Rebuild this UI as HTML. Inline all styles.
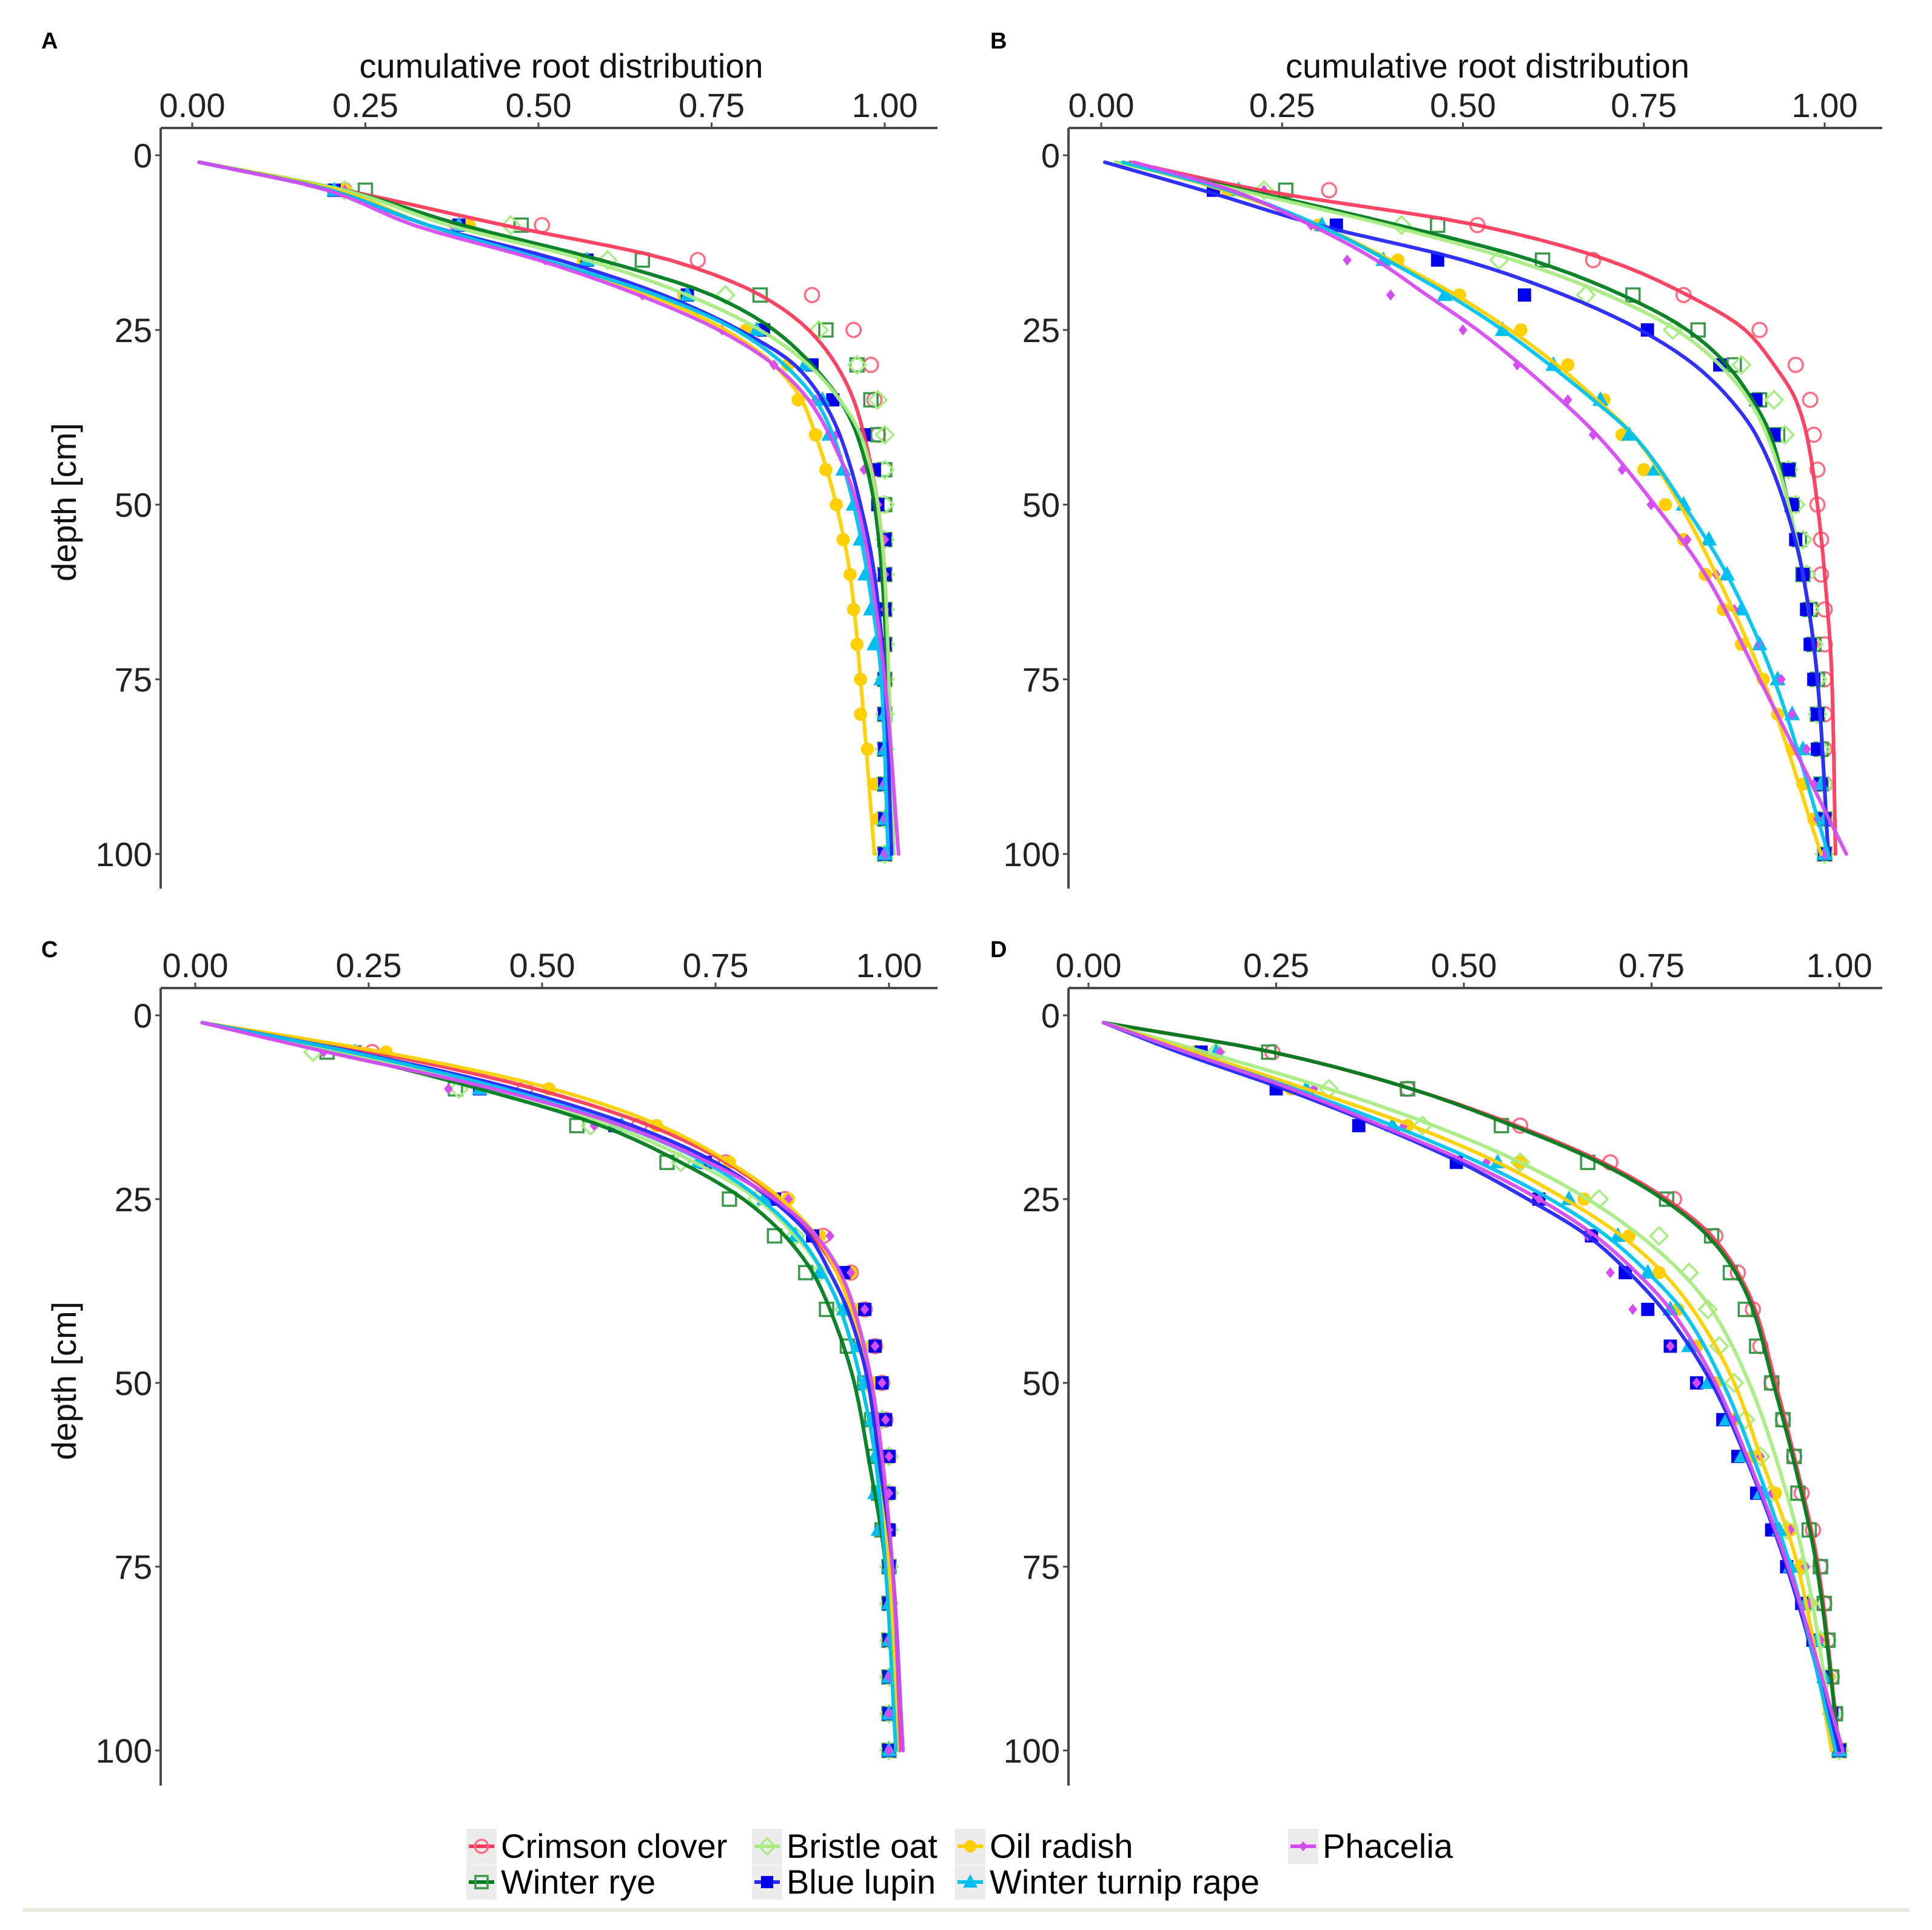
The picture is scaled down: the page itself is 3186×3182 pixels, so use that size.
<!DOCTYPE html>
<html><head><meta charset="utf-8">
<style>
html,body{margin:0;padding:0;background:#fff;}
svg{display:block;font-family:"Liberation Sans",Arial,sans-serif;}
</style></head>
<body>
<svg id="fig" width="3186" height="3182" viewBox="0 0 3186 3182" xmlns="http://www.w3.org/2000/svg"></svg>
<script>
const depthsCurve = [1,5,10,15,20,25,30,35,40,50,60,75,100];
const depthsPts = [5,10,15,20,25,30,35,40,45,50,55,60,65,70,75,80,85,90,95,100];
const species = ["Crimson clover","Winter rye","Bristle oat","Oil radish","Blue lupin","Winter turnip rape","Phacelia"];
const xTicks = [0,0.25,0.5,0.75,1];
const xTickLabels = ["0.00","0.25","0.50","0.75","1.00"];
const yTicks = [0,25,50,75,100];
const yTickLabels = ["0","25","50","75","100"];

// Panel A
const curveA_clover = [0.01,0.22,0.45,0.69,0.82,0.89,0.93,0.955,0.97,0.99,1.0,1.005,1.013];
const curveA_rye = [0.01,0.22,0.39,0.59,0.75,0.84,0.895,0.935,0.96,0.985,0.996,1.004,1.013];
const curveA_oat = [0.01,0.22,0.37,0.57,0.715,0.82,0.89,0.935,0.965,0.99,1.0,1.006,1.013];
const curveA_radish = [0.01,0.21,0.34,0.51,0.66,0.77,0.84,0.88,0.9,0.93,0.95,0.965,0.985];
const curveA_lupin = [0.01,0.2,0.34,0.53,0.68,0.79,0.87,0.91,0.935,0.965,0.985,1.0,1.01];
const curveA_turnip = [0.01,0.2,0.34,0.51,0.67,0.785,0.855,0.9,0.925,0.955,0.975,0.995,1.005];
const curveA_phacelia = [0.01,0.195,0.32,0.5,0.645,0.76,0.84,0.89,0.92,0.96,0.98,1.0,1.02];
const ptsA_clover = [0.22,0.505,0.73,0.895,0.955,0.98,0.985,0.99,1,1,1,1,1,1,1,1,1,1,1,1];
const ptsA_rye = [0.25,0.475,0.65,0.82,0.915,0.96,0.98,0.99,1,1,1,1,1,1,1,1,1,1,1,1];
const ptsA_oat = [0.22,0.46,0.6,0.77,0.905,0.96,0.99,1,1,1,1,1,1,1,1,1,1,1,1,1];
const ptsA_radish = [0.22,0.4,0.565,0.71,0.8,0.86,0.875,0.9,0.915,0.93,0.94,0.95,0.955,0.96,0.965,0.965,0.975,0.985,0.99,1];
const ptsA_lupin = [0.205,0.385,0.57,0.715,0.825,0.895,0.925,0.97,0.985,0.99,1,1,1,1,1,1,1,1,1,1];
const ptsA_turnip = [0.205,0.385,0.57,0.715,0.815,0.885,0.91,0.92,0.94,0.955,0.965,0.972,0.98,0.985,0.995,1,1,1,1,1];
const ptsA_phacelia = [0.22,0.375,0.51,0.65,0.765,0.84,0.9,0.93,0.97,0.99,1,1,1,1,1,1,1,1,1,1];

// Panel B
const curveB_clover = [0.04,0.22,0.52,0.70,0.81,0.89,0.93,0.96,0.975,0.99,1.0,1.01,1.015];
const curveB_rye = [0.02,0.2,0.41,0.595,0.72,0.81,0.865,0.9,0.925,0.95,0.97,0.99,1.005];
const curveB_oat = [0.02,0.19,0.395,0.57,0.7,0.795,0.855,0.895,0.92,0.95,0.97,0.99,1.005];
const curveB_radish = [0.03,0.17,0.3,0.4,0.49,0.565,0.63,0.685,0.735,0.8,0.85,0.915,0.995];
const curveB_lupin = [0.005,0.14,0.3,0.5,0.64,0.745,0.82,0.87,0.905,0.945,0.97,0.99,1.005];
const curveB_turnip = [0.03,0.175,0.3,0.395,0.48,0.555,0.62,0.68,0.735,0.805,0.865,0.93,1.005];
const curveB_phacelia = [0.045,0.18,0.29,0.38,0.45,0.52,0.58,0.635,0.685,0.765,0.835,0.91,1.03];
const ptsB_clover = [0.315,0.52,0.68,0.805,0.91,0.96,0.98,0.985,0.99,0.99,0.995,0.995,1,1,1,1,1,1,1,1];
const ptsB_rye = [0.255,0.465,0.61,0.735,0.825,0.875,0.91,0.935,0.95,0.955,0.965,0.97,0.98,0.985,0.99,0.99,0.995,0.995,1,1];
const ptsB_oat = [0.225,0.415,0.55,0.67,0.79,0.885,0.93,0.945,0.95,0.96,0.97,0.975,0.98,0.985,0.99,0.99,0.995,1,1,1];
const ptsB_radish = [0.175,0.3,0.41,0.495,0.58,0.645,0.695,0.72,0.75,0.78,0.805,0.835,0.86,0.885,0.915,0.935,0.955,0.97,0.985,1];
const ptsB_lupin = [0.155,0.325,0.465,0.585,0.755,0.855,0.905,0.93,0.95,0.955,0.96,0.97,0.975,0.98,0.985,0.99,0.99,0.995,1,1];
const ptsB_turnip = [0.19,0.305,0.39,0.475,0.555,0.625,0.69,0.73,0.765,0.805,0.84,0.865,0.885,0.91,0.935,0.955,0.97,0.995,1,1];
const ptsB_phacelia = [0.225,0.29,0.34,0.4,0.5,0.575,0.645,0.68,0.72,0.76,0.81,0.85,0.875,0.91,0.94,0.955,0.975,0.985,0.99,1];

// Panel C
const curveC_clover = [0.01,0.255,0.49,0.655,0.765,0.84,0.89,0.925,0.945,0.97,0.985,1.0,1.015];
const curveC_rye = [0.01,0.2,0.41,0.585,0.7,0.79,0.85,0.89,0.915,0.95,0.97,0.995,1.01];
const curveC_oat = [0.01,0.21,0.435,0.6,0.72,0.81,0.865,0.905,0.93,0.96,0.98,1.0,1.012];
const curveC_radish = [0.01,0.27,0.515,0.67,0.77,0.845,0.895,0.925,0.945,0.97,0.985,1.0,1.01];
const curveC_lupin = [0.01,0.23,0.46,0.63,0.75,0.83,0.885,0.915,0.94,0.97,0.985,1.005,1.02];
const curveC_turnip = [0.01,0.225,0.445,0.615,0.735,0.815,0.87,0.905,0.93,0.96,0.98,0.995,1.01];
const curveC_phacelia = [0.01,0.19,0.43,0.615,0.74,0.835,0.895,0.93,0.95,0.975,0.99,1.005,1.02];
const ptsC_clover = [0.255,0.475,0.64,0.765,0.85,0.905,0.945,0.965,0.98,0.99,0.995,1,1,1,1,1,1,1,1,1];
const ptsC_rye = [0.19,0.375,0.55,0.68,0.77,0.835,0.88,0.91,0.94,0.965,0.975,0.98,0.985,0.99,1,1,1,1,1,1];
const ptsC_oat = [0.17,0.38,0.57,0.7,0.81,0.865,0.9,0.935,0.96,0.97,0.99,1,1,1,1,1,1,1,1,1];
const ptsC_radish = [0.275,0.51,0.665,0.77,0.855,0.9,0.945,0.95,0.975,0.98,0.99,1,1,1,1,1,1,1,1,1];
const ptsC_lupin = [0.23,0.41,0.605,0.735,0.835,0.89,0.935,0.965,0.98,0.99,0.995,1,1,1,1,1,1,1,1,1];
const ptsC_turnip = [0.23,0.41,0.615,0.725,0.82,0.865,0.9,0.935,0.955,0.965,0.975,0.98,0.98,0.985,1,1,1,1,1,1];
const ptsC_phacelia = [0.185,0.365,0.575,0.74,0.855,0.915,0.945,0.965,0.98,0.99,0.995,1,1,1,1,1,1,1,1,1];

// Panel D
const curveD_clover = [0.02,0.245,0.43,0.57,0.685,0.77,0.83,0.865,0.888,0.915,0.94,0.972,1.0];
const curveD_rye = [0.02,0.245,0.43,0.565,0.68,0.765,0.825,0.862,0.885,0.912,0.938,0.97,1.0];
const curveD_oat = [0.02,0.155,0.32,0.46,0.575,0.665,0.735,0.79,0.83,0.88,0.915,0.955,0.995];
const curveD_radish = [0.02,0.14,0.29,0.43,0.545,0.635,0.71,0.765,0.805,0.86,0.895,0.945,0.99];
const curveD_lupin = [0.02,0.12,0.26,0.385,0.495,0.585,0.665,0.72,0.765,0.83,0.875,0.93,1.0];
const curveD_turnip = [0.02,0.13,0.275,0.405,0.52,0.615,0.69,0.745,0.79,0.845,0.885,0.935,0.995];
const curveD_phacelia = [0.02,0.13,0.27,0.39,0.505,0.6,0.675,0.73,0.775,0.835,0.877,0.932,1.005];
const ptsD_clover = [0.245,0.425,0.575,0.695,0.78,0.835,0.865,0.885,0.895,0.91,0.925,0.94,0.95,0.965,0.975,0.98,0.985,0.99,0.995,1];
const ptsD_rye = [0.24,0.425,0.55,0.665,0.77,0.83,0.855,0.875,0.89,0.91,0.925,0.94,0.945,0.96,0.975,0.98,0.985,0.99,0.995,1];
const ptsD_oat = [0.17,0.32,0.445,0.575,0.68,0.76,0.8,0.825,0.84,0.86,0.875,0.895,0.91,0.93,0.95,0.96,0.975,0.985,0.99,1];
const ptsD_radish = [0.14,0.27,0.425,0.575,0.66,0.72,0.76,0.785,0.81,0.835,0.86,0.885,0.915,0.935,0.95,0.96,0.975,0.985,0.99,1];
const ptsD_lupin = [0.15,0.25,0.36,0.49,0.6,0.67,0.715,0.745,0.775,0.81,0.845,0.865,0.89,0.91,0.93,0.95,0.965,0.98,0.99,1];
const ptsD_turnip = [0.17,0.29,0.405,0.545,0.64,0.705,0.745,0.775,0.8,0.825,0.85,0.87,0.895,0.92,0.935,0.955,0.97,0.98,0.99,1];
const ptsD_phacelia = [0.175,0.3,0.42,0.53,0.6,0.665,0.695,0.725,0.775,0.81,0.86,0.895,0.91,0.935,0.955,0.96,0.975,0.975,0.99,1];

const NS = "http://www.w3.org/2000/svg";
const svg = document.getElementById("fig");
const lineColors = ["#ff3b5c","#007d1e","#a8ec84","#ffd000","#2626ff","#00c2ef","#d44cf2"];
const ptColors = ["#ff6f86","#3a9a4c","#a8ec84","#ffd000","#0000ee","#00bdf0","#d44cf2"];
const markers = ["circleOpen","squareOpen","diamondOpen","circle","square","triangle","diamondSmall"];
const keys = ["clover","rye","oat","radish","lupin","turnip","phacelia"];

const panels = [
 {id:"A", ax:265, top:211, right:1546, bottom:1465, x0:317, x1:1459, y0:256, y1:1408, title:true, ylab:true, lx:68, ly:80, curves:[curveA_clover,curveA_rye,curveA_oat,curveA_radish,curveA_lupin,curveA_turnip,curveA_phacelia], pts:[ptsA_clover,ptsA_rye,ptsA_oat,ptsA_radish,ptsA_lupin,ptsA_turnip,ptsA_phacelia]},
 {id:"B", ax:1762, top:211, right:3104, bottom:1465, x0:1816, x1:3009, y0:256, y1:1408, title:true, ylab:false, lx:1633, ly:80, curves:[curveB_clover,curveB_rye,curveB_oat,curveB_radish,curveB_lupin,curveB_turnip,curveB_phacelia], pts:[ptsB_clover,ptsB_rye,ptsB_oat,ptsB_radish,ptsB_lupin,ptsB_turnip,ptsB_phacelia]},
 {id:"C", ax:265, top:1629, right:1546, bottom:2944, x0:322, x1:1466, y0:1674, y1:2886, title:false, ylab:true, lx:68, ly:1578, curves:[curveC_clover,curveC_rye,curveC_oat,curveC_radish,curveC_lupin,curveC_turnip,curveC_phacelia], pts:[ptsC_clover,ptsC_rye,ptsC_oat,ptsC_radish,ptsC_lupin,ptsC_turnip,ptsC_phacelia]},
 {id:"D", ax:1762, top:1629, right:3104, bottom:2944, x0:1795, x1:3033, y0:1674, y1:2886, title:false, ylab:false, lx:1633, ly:1578, curves:[curveD_clover,curveD_rye,curveD_oat,curveD_radish,curveD_lupin,curveD_turnip,curveD_phacelia], pts:[ptsD_clover,ptsD_rye,ptsD_oat,ptsD_radish,ptsD_lupin,ptsD_turnip,ptsD_phacelia]}
];

function mk(tag, attrs, parent){
  const e = document.createElementNS(NS, tag);
  for (const k in attrs) e.setAttribute(k, attrs[k]);
  (parent||svg).appendChild(e);
  return e;
}
function txt(str, attrs, parent){ const t = mk("text", attrs, parent); t.textContent = str; return t; }

// monotone cubic (Fritsch-Carlson) interpolation of value as function of depth
function monotoneSample(xs, ys, step){
  const n = xs.length, d = [], m = new Array(n);
  for (let i=0;i<n-1;i++) d.push((ys[i+1]-ys[i])/(xs[i+1]-xs[i]));
  m[0]=d[0]; m[n-1]=d[n-2];
  for (let i=1;i<n-1;i++){
    if (d[i-1]*d[i] <= 0) m[i]=0;
    else { const w1 = 2*(xs[i+1]-xs[i]) + (xs[i]-xs[i-1]), w2 = (xs[i+1]-xs[i]) + 2*(xs[i]-xs[i-1]);
      m[i] = (w1+w2)/(w1/d[i-1] + w2/d[i]); }
  }
  const out = [];
  for (let i=0;i<n-1;i++){
    const h = xs[i+1]-xs[i];
    const k = Math.max(2, Math.ceil(h/step));
    for (let j=0;j<k;j++){
      const t = j/k, t2=t*t, t3=t2*t;
      const v = (2*t3-3*t2+1)*ys[i] + (t3-2*t2+t)*h*m[i] + (-2*t3+3*t2)*ys[i+1] + (t3-t2)*h*m[i+1];
      out.push([xs[i]+t*h, v]);
    }
  }
  out.push([xs[n-1], ys[n-1]]);
  return out;
}

function drawMarker(g, type, cx, cy, col, s){
  let e;
  if (type==="circleOpen") e = mk("circle",{cx:cx,cy:cy,r:s*0.45,fill:"none",stroke:col,"stroke-width":3.5},g);
  else if (type==="squareOpen") e = mk("rect",{x:cx-s*0.42,y:cy-s*0.42,width:s*0.84,height:s*0.84,fill:"none",stroke:col,"stroke-width":3.5},g);
  else if (type==="diamondOpen") e = mk("polygon",{points:`${cx},${cy-s*0.55} ${cx+s*0.55},${cy} ${cx},${cy+s*0.55} ${cx-s*0.55},${cy}`,fill:"none",stroke:col,"stroke-width":3.5},g);
  else if (type==="circle") e = mk("circle",{cx:cx,cy:cy,r:s*0.42,fill:col},g);
  else if (type==="square") e = mk("rect",{x:cx-s*0.42,y:cy-s*0.42,width:s*0.84,height:s*0.84,fill:col},g);
  else if (type==="triangle") e = mk("polygon",{points:`${cx},${cy-s*0.55} ${cx+s*0.5},${cy+s*0.38} ${cx-s*0.5},${cy+s*0.38}`,fill:col},g);
  else e = mk("polygon",{points:`${cx},${cy-s*0.35} ${cx+s*0.28},${cy} ${cx},${cy+s*0.35} ${cx-s*0.28},${cy}`,fill:col},g);
  return e;
}

panels.forEach(p => {
  const sx = v => p.x0 + v*(p.x1-p.x0);
  const sy = d => p.y0 + d/100*(p.y1-p.y0);
  const g = mk("g",{});
  
  

  const lab = txt(p.id,{x:p.lx,y:p.ly,"font-size":38,"font-weight":"bold",fill:"#000"},g);
  
  

  if (p.title){
    const t = txt("cumulative root distribution",{x:(p.ax+p.right)/2+20,y:128,"font-size":56,"text-anchor":"middle",fill:"#111"},g);
    
    
  }
  if (p.ylab){
    const cy = (p.top+p.bottom)/2 - 10;
    const t = txt("depth [cm]",{x:0,y:0,"font-size":56,"text-anchor":"middle",fill:"#111",transform:`translate(125,${cy}) rotate(-90)`},g);
    
    
  }
  const xa = mk("line",{x1:p.ax,y1:p.top,x2:p.right,y2:p.top,stroke:"#4a4a4a","stroke-width":4},g);
  
  
  const ya = mk("line",{x1:p.ax,y1:p.top,x2:p.ax,y2:p.bottom,stroke:"#4a4a4a","stroke-width":4},g);
  
  

  xTicks.forEach((v,i)=>{
    mk("line",{x1:sx(v),y1:p.top-9,x2:sx(v),y2:p.top,stroke:"#4a4a4a","stroke-width":3},g);
    const t = txt(xTickLabels[i],{x:sx(v),y:p.top-18,"font-size":56,"text-anchor":"middle",fill:"#222"},g);
    
    
  });
  yTicks.forEach((v,i)=>{
    mk("line",{x1:p.ax-9,y1:sy(v),x2:p.ax,y2:sy(v),stroke:"#4a4a4a","stroke-width":3},g);
    const t = txt(yTickLabels[i],{x:p.ax-14,y:sy(v)+20,"font-size":56,"text-anchor":"end",fill:"#222"},g);
    
    
  });

  p.pts.forEach((arr, si) => {
    const pg = mk("g",{},g);
    
    
    arr.forEach((v,j)=>{
      const m = drawMarker(pg, markers[si], sx(v), sy(depthsPts[j]), ptColors[si], 26);
      
      
    });
  });
  p.curves.forEach((arr, si) => {
    const samp = monotoneSample(depthsCurve, arr, 1);
    const d = samp.map((q,i)=>(i?"L":"M")+sx(q[1]).toFixed(1)+","+sy(q[0]).toFixed(1)).join(" ");
    const path = mk("path",{d:d,fill:"none",stroke:lineColors[si],"stroke-width":6,"stroke-linecap":"round","stroke-linejoin":"round","stroke-opacity":0.95},g);
    
    
  });
});

// Legend
const legendPos = [[769,3044],[769,3103],[1240,3044],[1575,3044],[1240,3103],[1575,3103],[2124,3044]];
const lg = mk("g",{});


species.forEach((name,i)=>{
  const [x,y] = legendPos[i];
  const eg = mk("g",{},lg);
  
  
  mk("rect",{x:x,y:y-29,width:50,height:58,fill:"#ececec"},eg);
  mk("line",{x1:x+4,y1:y,x2:x+46,y2:y,stroke:lineColors[i],"stroke-width":6},eg);
  drawMarker(eg, markers[i], x+25, y, ptColors[i], 24);
  txt(name,{x:x+57,y:y+19,"font-size":56,fill:"#000"},eg);
});
const bl = mk("rect",{x:37,y:3146,width:3112,height:6,fill:"#ece8dc"});


</script>
</body></html>
